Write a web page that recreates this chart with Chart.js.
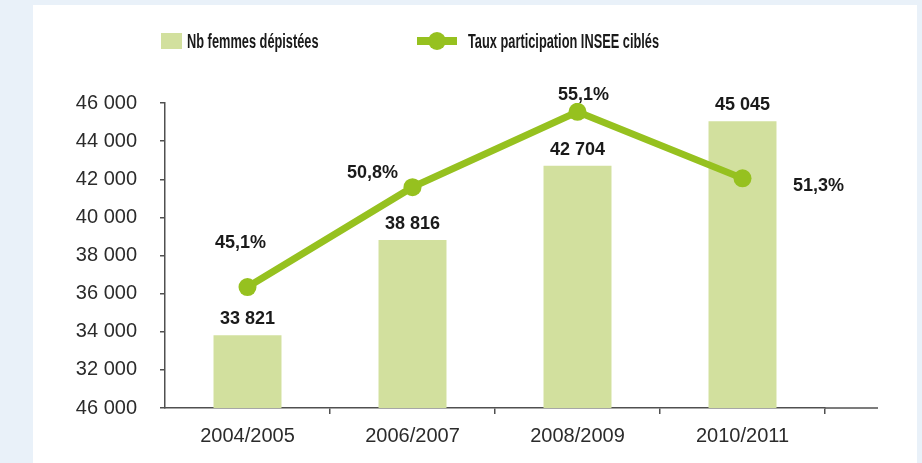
<!DOCTYPE html>
<html>
<head>
<meta charset="utf-8">
<script src="https://cdn.jsdelivr.net/npm/chart.js@4.4.0/dist/chart.umd.min.js"></script>
<style>
  html, body { margin: 0; padding: 0; background: #e9f1f9; width: 922px; height: 463px; overflow: hidden; }
  #panel { position: absolute; left: 33px; top: 5px; width: 884px; height: 458px; background: #ffffff; }
</style>
</head>
<body>
<div id="panel"><canvas id="chart" width="884" height="458"></canvas></div>
<script>
// Data
const periods = ['2004/2005', '2006/2007', '2008/2009', '2010/2011'];
const nbFemmes = [33821, 38816, 42704, 45045];
const tauxParticipation = [45.1, 50.8, 55.1, 51.3];
// the original chart prints "46 000" on its bottom tick
const yTickLabels = ['46 000', '32 000', '34 000', '36 000', '38 000', '40 000', '42 000', '44 000', '46 000'];
const seriesNames = ['Nb femmes dépistées', 'Taux participation INSEE ciblés'];

// Colours
const barColor = '#d2e09e';
const lineColor = '#96c11f';
const axisColor = '#505050';
const textColor = '#1a1a1a';
const FONT = '"Liberation Sans", Arial, sans-serif';

// where the percentage labels sit around each point
const pctLabelDx = [-7, -40, 6, 76];
const pctLabelDy = [-44, -14, -17, 8];

function fmtThousands(n) {
    return String(n).replace(/\B(?=(\d{3})+(?!\d))/g, ' ');
}

function fmtPct(v) {
    return v.toFixed(1).replace('.', ',') + '%';
}

// Value labels above the bars and next to the points
const valueLabels = {
    id: 'valueLabels',
    afterDatasetsDraw(chart) {
        const ctx = chart.ctx;
        ctx.save();
        ctx.font = 'bold 18px ' + FONT;
        ctx.fillStyle = textColor;
        ctx.textAlign = 'center';
        ctx.textBaseline = 'middle';
        chart.getDatasetMeta(0).data.forEach((bar, i) => {
            ctx.fillText(fmtThousands(nbFemmes[i]), bar.x, bar.y - 16);
        });
        chart.getDatasetMeta(1).data.forEach((pt, i) => {
            ctx.fillText(fmtPct(tauxParticipation[i]), pt.x + pctLabelDx[i], pt.y + pctLabelDy[i]);
        });
        ctx.restore();
    }
};

// x axis line runs on past the last category, and the legend on top
const decorations = {
    id: 'decorations',
    afterDraw(chart) {
        const ctx = chart.ctx;
        const area = chart.chartArea;
        ctx.save();
        ctx.strokeStyle = axisColor;
        ctx.lineWidth = 1.5;
        ctx.beginPath();
        ctx.moveTo(area.right, area.bottom);
        ctx.lineTo(area.right + 53, area.bottom);
        ctx.stroke();

        // legend: bar swatch
        ctx.fillStyle = barColor;
        ctx.fillRect(128, 28, 21, 16);
        // legend: line with marker
        ctx.strokeStyle = lineColor;
        ctx.lineWidth = 8;
        ctx.beginPath();
        ctx.moveTo(384, 36);
        ctx.lineTo(424, 36);
        ctx.stroke();
        ctx.fillStyle = lineColor;
        ctx.beginPath();
        ctx.arc(404, 36, 9, 0, Math.PI * 2);
        ctx.fill();

        // legend texts in a condensed bold face
        ctx.fillStyle = textColor;
        ctx.font = 'bold 20px ' + FONT;
        ctx.textBaseline = 'middle';
        ctx.textAlign = 'left';
        [[154, seriesNames[0]], [435, seriesNames[1]]].forEach(([x, txt]) => {
            ctx.save();
            ctx.translate(x, 37);
            ctx.scale(0.64, 1);
            ctx.fillText(txt, 0, 0);
            ctx.restore();
        });
        ctx.restore();
    }
};

Chart.defaults.font.family = FONT;

const ctx = document.getElementById('chart').getContext('2d');
new Chart(ctx, {
    type: 'bar',
    data: {
        labels: periods,
        datasets: [{
            type: 'bar',
            label: seriesNames[0],
            data: nbFemmes,
            backgroundColor: barColor,
            borderWidth: 0,
            categoryPercentage: 1,
            barPercentage: 0.412,
            yAxisID: 'y',
            order: 2
        }, {
            type: 'line',
            label: seriesNames[1],
            data: tauxParticipation,
            borderColor: lineColor,
            backgroundColor: lineColor,
            borderWidth: 7,
            pointRadius: 9,
            pointBackgroundColor: lineColor,
            pointBorderWidth: 0,
            tension: 0,
            fill: false,
            yAxisID: 'y1',
            order: 1
        }]
    },
    options: {
        responsive: false,
        animation: false,
        layout: {
            padding: { top: 98, right: 92, bottom: 0, left: 0 }
        },
        plugins: {
            legend: { display: false },
            tooltip: { enabled: false }
        },
        scales: {
            x: {
                offset: true,
                grid: {
                    offset: true,
                    drawOnChartArea: false,
                    tickLength: 6,
                    lineWidth: 1.5,
                    color: c => c.index === 0 ? 'rgba(0,0,0,0)' : axisColor
                },
                border: { color: axisColor, width: 1.5 },
                ticks: {
                    padding: 10,
                    color: '#2b2b2b',
                    font: { size: 20 }
                },
                afterFit: s => { s.height = 55; }
            },
            y: {
                position: 'left',
                min: 30000,
                max: 46000,
                grid: {
                    drawOnChartArea: false,
                    tickLength: 5,
                    lineWidth: 1.5,
                    color: axisColor
                },
                border: { color: axisColor, width: 1.5 },
                ticks: {
                    stepSize: 2000,
                    padding: 23,
                    color: '#2b2b2b',
                    font: { size: 20 },
                    callback: (value, index) => yTickLabels[index]
                },
                afterFit: s => { s.width = 132; }
            },
            y1: {
                display: false,
                min: 38.2,
                max: 55.6
            }
        }
    },
    plugins: [valueLabels, decorations]
});
</script>
</body>
</html>
